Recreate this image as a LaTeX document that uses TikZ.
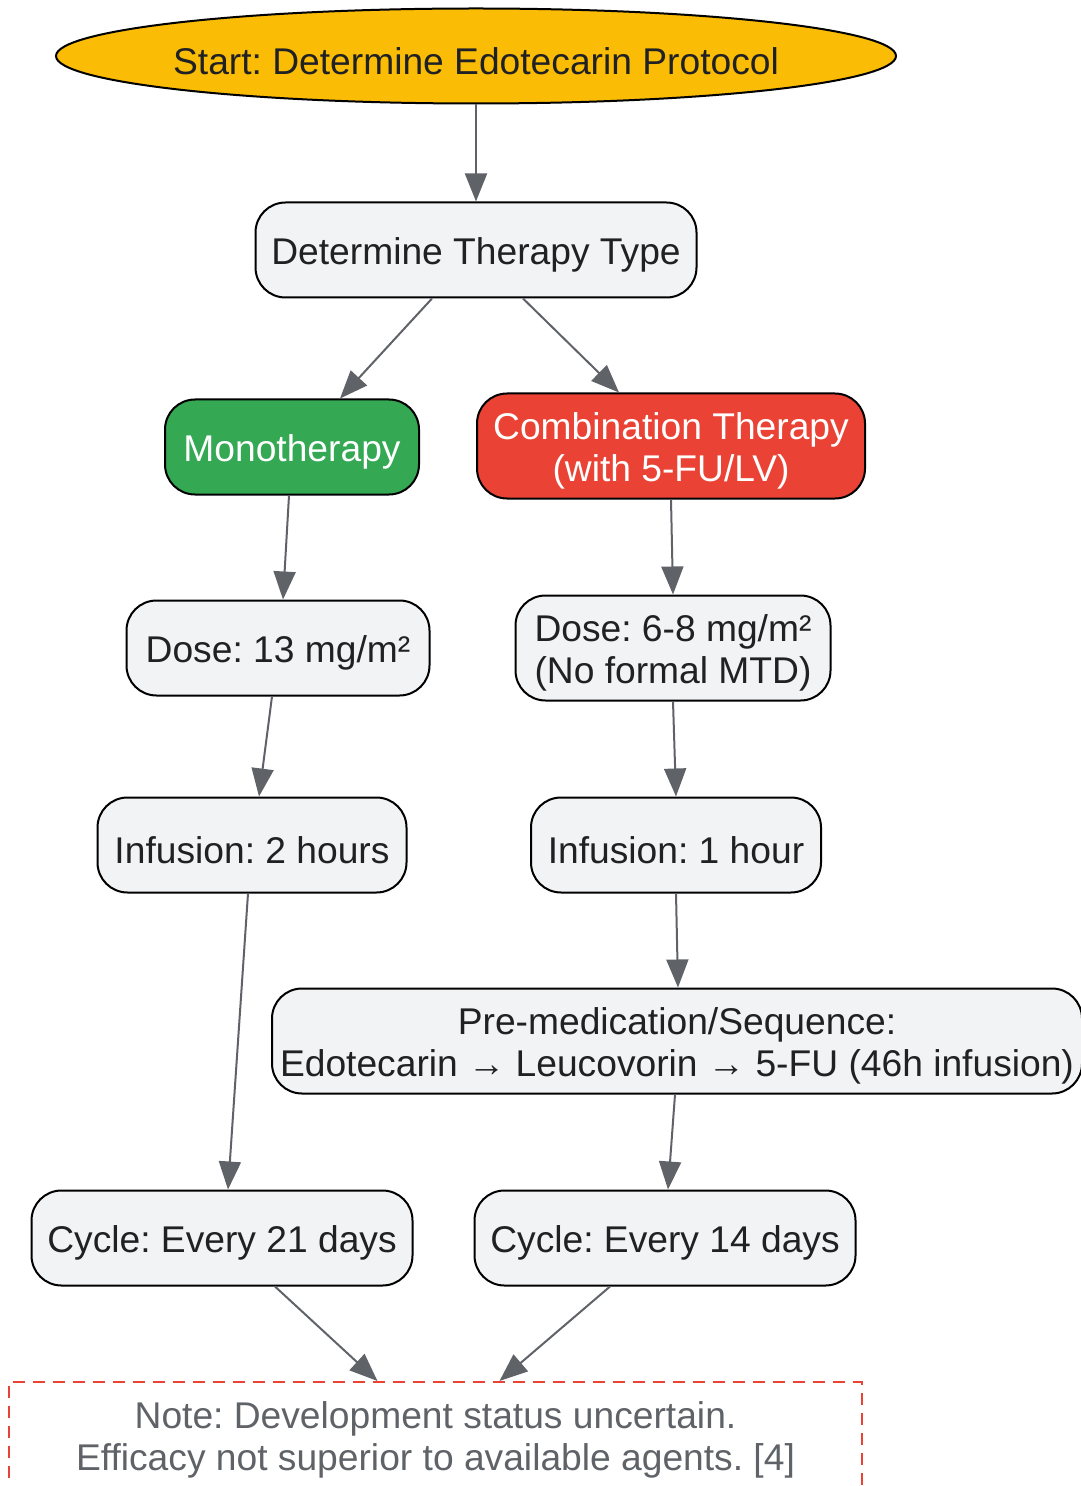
\documentclass[tikz,border=0pt]{standalone}
\usepackage{fontspec}
\setmainfont{Liberation Sans}
\usetikzlibrary{shapes.geometric,arrows.meta}
\definecolor{boxgray}{HTML}{F1F3F4}
\definecolor{linegray}{HTML}{5F6368}
\definecolor{txtdark}{HTML}{202124}
\definecolor{startyel}{HTML}{FBBC05}
\definecolor{monogreen}{HTML}{34A853}
\definecolor{combored}{HTML}{EA4335}
\tikzset{
  lbl/.style={font=\fontsize{18.6}{20.6}\selectfont\frenchspacing,
    execute at begin node={\rule{0pt}{18.5pt}}},
  twolines/.style={execute at begin node={\rule{0pt}{#1}}},
  twolines/.default=39pt,
  box/.style={lbl, draw=black, line width=1pt, rounded corners=15pt, fill=boxgray,
    text=txtdark, align=center, minimum height=47.5pt, inner sep=2pt},
  arr/.style={draw=linegray, line width=1pt, -{Triangle[length=14pt,width=11pt]}}
}
\begin{document}
\begin{tikzpicture}[x=0.5pt, y=-0.5pt]
\useasboundingbox (0,0) rectangle (1080,1486);
\node(start) [lbl, ellipse, draw=black, line width=1pt, fill=startyel, text=txtdark,
  minimum width=420pt, minimum height=47.5pt, inner xsep=-10pt, inner ysep=0pt] at (476,56) {Start: Determine Edotecarin Protocol};
\node(type) [box, minimum width=220.5pt] at (476,250) {Determine Therapy Type};
\node(mono) [box, minimum width=127pt, fill=monogreen, text=white] at (292,447) {Monotherapy};
\node(combo) [box, twolines, minimum width=194pt, minimum height=52.5pt, fill=combored, text=white] at (671,446) {Combination Therapy\\(with 5-FU/LV)};
\node(dose1) [box, minimum width=151.5pt] at (278,648) {Dose: 13 mg/m²};
\node(dose2) [box, twolines, minimum width=157.5pt, minimum height=52.5pt] at (673,648) {Dose: 6-8 mg/m²\\(No formal MTD)};
\node(inf1) [box, minimum width=154.5pt] at (252,845) {Infusion: 2 hours};
\node(inf2) [box, minimum width=145pt] at (676,845) {Infusion: 1 hour};
\node(seq) [box, twolines, minimum width=405pt, minimum height=52.5pt] at (677,1041) {Pre-medication/Sequence:\\Edotecarin → Leucovorin → 5-FU (46h infusion)};
\node(cyc1) [box, minimum width=190.5pt] at (222,1238) {Cycle: Every 21 days};
\node(cyc2) [box, minimum width=190.5pt] at (665,1238) {Cycle: Every 14 days};
\node(note) [lbl, twolines=37pt, draw=combored, line width=1pt, dash pattern=on 6pt off 4pt, text=linegray,
  align=center, minimum width=426.5pt, minimum height=55pt] at (435.5,1437) {Note: Development status uncertain.\\Efficacy not superior to available agents. [4]};
\draw[arr] (start) -- (type);
\draw[arr] ([xshift=-22pt]type.south) -- ([xshift=24pt]mono.north);
\draw[arr] ([xshift=23.5pt]type.south) -- ([xshift=-26pt]combo.north);
\draw[arr] ([xshift=-1.5pt]mono.south) -- ([xshift=2.5pt]dose1.north);
\draw[arr] (combo.south) -- (dose2.north);
\draw[arr] ([xshift=-3pt]dose1.south) -- ([xshift=3.5pt]inf1.north);
\draw[arr] (dose2.south) -- (inf2.north);
\draw[arr] ([xshift=-2pt]inf1.south) -- ([xshift=3pt]cyc1.north);
\draw[arr] (inf2.south) -- ([xshift=0.5pt]seq.north);
\draw[arr] ([xshift=-1pt]seq.south) -- ([xshift=1.5pt]cyc2.north);
\draw[arr] ([xshift=26.5pt]cyc1.south) -- ([xshift=-29pt]note.north);
\draw[arr] ([xshift=-27.5pt]cyc2.south) -- ([xshift=32pt]note.north);
\end{tikzpicture}
\end{document}
